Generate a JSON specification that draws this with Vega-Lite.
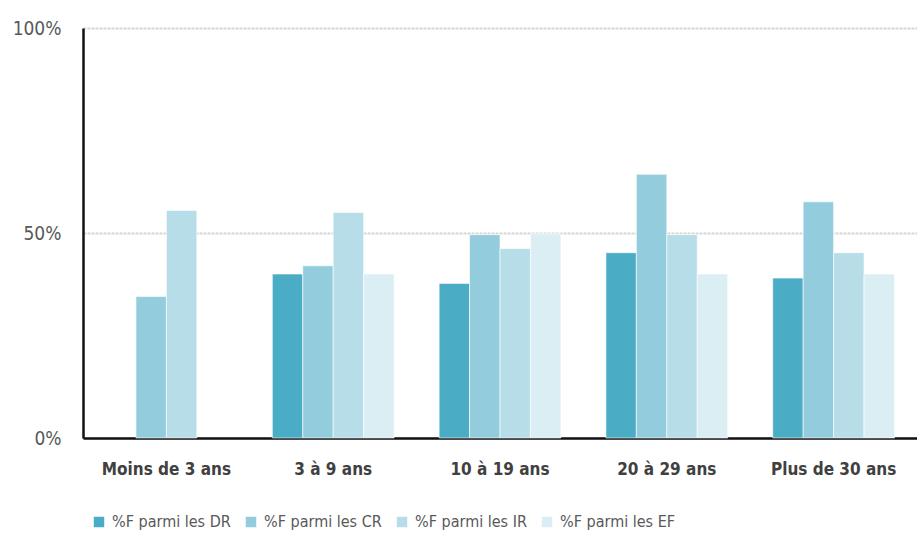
{
  "$schema": "https://vega.github.io/schema/vega-lite/v6.json",
  "width": 834,
  "height": 410,
  "autosize": {"type": "none"},
  "padding": {"left": 83, "top": 28, "right": 0, "bottom": 97},
  "background": "white",
  "data": {
    "values": [
      {"anciennete": "Moins de 3 ans", "serie": "%F parmi les CR", "part": 0.345},
      {"anciennete": "Moins de 3 ans", "serie": "%F parmi les IR", "part": 0.555},
      {"anciennete": "3 à 9 ans", "serie": "%F parmi les DR", "part": 0.40},
      {"anciennete": "3 à 9 ans", "serie": "%F parmi les CR", "part": 0.42},
      {"anciennete": "3 à 9 ans", "serie": "%F parmi les IR", "part": 0.55},
      {"anciennete": "3 à 9 ans", "serie": "%F parmi les EF", "part": 0.40},
      {"anciennete": "10 à 19 ans", "serie": "%F parmi les DR", "part": 0.377},
      {"anciennete": "10 à 19 ans", "serie": "%F parmi les CR", "part": 0.496},
      {"anciennete": "10 à 19 ans", "serie": "%F parmi les IR", "part": 0.462},
      {"anciennete": "10 à 19 ans", "serie": "%F parmi les EF", "part": 0.498},
      {"anciennete": "20 à 29 ans", "serie": "%F parmi les DR", "part": 0.452},
      {"anciennete": "20 à 29 ans", "serie": "%F parmi les CR", "part": 0.643},
      {"anciennete": "20 à 29 ans", "serie": "%F parmi les IR", "part": 0.496},
      {"anciennete": "20 à 29 ans", "serie": "%F parmi les EF", "part": 0.40},
      {"anciennete": "Plus de 30 ans", "serie": "%F parmi les DR", "part": 0.39},
      {"anciennete": "Plus de 30 ans", "serie": "%F parmi les CR", "part": 0.576},
      {"anciennete": "Plus de 30 ans", "serie": "%F parmi les IR", "part": 0.452},
      {"anciennete": "Plus de 30 ans", "serie": "%F parmi les EF", "part": 0.40}
    ]
  },
  "mark": {"type": "bar", "stroke": "white", "strokeWidth": 0.6},
  "encoding": {
    "x": {
      "field": "anciennete",
      "type": "nominal",
      "sort": ["Moins de 3 ans", "3 à 9 ans", "10 à 19 ans", "20 à 29 ans", "Plus de 30 ans"],
      "scale": {"paddingInner": 0.27, "paddingOuter": 0.135},
      "axis": {
        "title": null,
        "labelAngle": 0,
        "labelFont": "DejaVu Sans Condensed, Roboto, sans-serif",
        "labelFontSize": 17,
        "labelFontWeight": "bold",
        "labelColor": "#404040",
        "labelPadding": 23,
        "ticks": false,
        "domainColor": "#111111",
        "domainWidth": 2.5,
        "grid": false
      }
    },
    "xOffset": {
      "field": "serie",
      "type": "nominal",
      "sort": ["%F parmi les DR", "%F parmi les CR", "%F parmi les IR", "%F parmi les EF"],
      "scale": {"domain": ["%F parmi les DR", "%F parmi les CR", "%F parmi les IR", "%F parmi les EF"], "paddingInner": 0, "paddingOuter": 0}
    },
    "y": {
      "field": "part",
      "type": "quantitative",
      "scale": {"domain": [0, 1], "nice": false},
      "axis": {
        "title": null,
        "values": [0, 0.5, 1],
        "format": ".0%",
        "labelFont": "DejaVu Sans Condensed, Roboto, sans-serif",
        "labelFontSize": 19,
        "labelColor": "#595959",
        "labelPadding": 22,
        "ticks": false,
        "domainColor": "#111111",
        "domainWidth": 2.5,
        "gridColor": "#d6d6d6",
        "gridWidth": 2,
        "gridDash": [3, 1]
      }
    },
    "color": {
      "field": "serie",
      "type": "nominal",
      "sort": ["%F parmi les DR", "%F parmi les CR", "%F parmi les IR", "%F parmi les EF"],
      "scale": {
        "domain": ["%F parmi les DR", "%F parmi les CR", "%F parmi les IR", "%F parmi les EF"],
        "range": ["#4BACC6", "#93CDDD", "#B7DEE8", "#DAEEF3"]
      },
      "legend": {
        "title": null,
        "orient": "none",
        "direction": "horizontal",
        "legendX": 8,
        "legendY": 486,
        "symbolType": "square",
        "symbolSize": 110,
        "symbolStrokeWidth": 0,
        "labelFont": "DejaVu Sans Condensed, Roboto, sans-serif",
        "labelFontSize": 16,
        "labelColor": "#595959",
        "columnPadding": 12,
        "labelOffset": 5
      }
    }
  },
  "config": {"view": {"stroke": null}}
}
